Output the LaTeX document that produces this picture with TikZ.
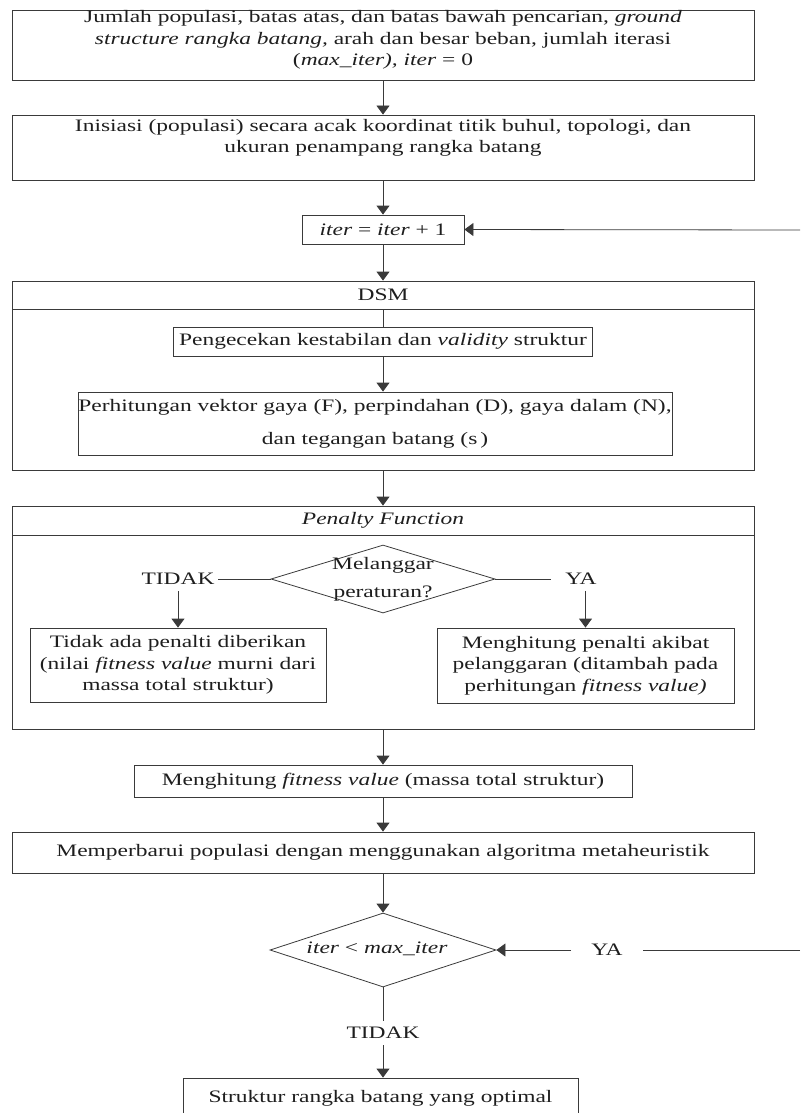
\documentclass[tikz,border=0pt]{standalone}
\usepackage{fontspec}
\setmainfont{Liberation Serif}[FakeStretch=1.34]
\usetikzlibrary{shapes.geometric,arrows.meta,positioning}

\definecolor{linegray}{HTML}{3A3A3A}
\definecolor{inkgray}{HTML}{1E1E1E}

\tikzset{
  box/.style={draw=linegray, line width=0.8pt, rectangle, inner sep=0pt, align=center},
  txt/.style={inner sep=1pt, align=center},
  lbl/.style={inner ysep=6pt, inner xsep=3pt},
  arr/.style={-{Triangle[width=13pt,length=9pt]}, draw=linegray, line width=0.8pt},
  ln/.style={draw=linegray, line width=0.8pt},
}

\begin{document}
\begin{tikzpicture}[x=1pt, y=-1pt, text=inkgray, font=\fontsize{17.5}{21.5}\selectfont]
    \useasboundingbox (0,0) rectangle (800,1113);
    \clip (0,0) rectangle (800,1113);

    % Input data
    \node[box, minimum width=742, minimum height=70] (input) at (383,45) {};
    \node[txt] (inputtxt) at (383,40) {Jumlah populasi, batas atas, dan batas bawah pencarian, \textit{ground}\\
        \textit{structure rangka batang,} arah dan besar beban, jumlah iterasi\\
        (\textit{max\_iter),} \textit{iter} = 0};

    % Initial population
    \node[box, minimum width=742, minimum height=65] (init) at (383,147.5) {};
    \node[txt] (inittxt) at (383,138) {Inisiasi (populasi) secara acak koordinat titik buhul, topologi, dan\\
        ukuran penampang rangka batang};

    % Iteration counter
    \node[box, minimum width=162, minimum height=29] (iter) at (383,229.5) {\textit{iter} = \textit{iter} + 1};

    % DSM block
    \node[box, minimum width=742, minimum height=189] (dsm) at (383,375.5) {};
    \node[box, minimum width=742, minimum height=28, anchor=north] (dsmhead) at (dsm.north) {DSM};
    \node[box, minimum width=419, minimum height=29] (cek) at (383,341.5) {Pengecekan kestabilan dan \textit{validity} struktur};
    \node[box, minimum width=594, minimum height=63] (hitung) at (375,423.5) {Perhitungan vektor gaya (F), perpindahan (D), gaya dalam (N),\\[11.5pt]
        dan tegangan batang (s\,)};

    % Penalty function block
    \node[box, minimum width=742, minimum height=223] (penalty) at (383,617.5) {};
    \node[box, minimum width=742, minimum height=29, anchor=north] (penhead) at (penalty.north) {\textit{Penalty Function}};
    \node[diamond, draw=linegray, line width=0.8pt, minimum width=224, minimum height=68, inner sep=0pt] (langgar) at (383,579) {};
    \node[txt] (langgartxt) at (383,579) {Melanggar\\[6.5pt]peraturan?};
    \node[lbl] (tidak1) at (178,579) {TIDAK};
    \node[lbl, inner xsep=14pt] (ya1) at (581,579) {YA};
    \node[box, minimum width=296, minimum height=74] (nopen) at (178,665) {Tidak ada penalti diberikan\\
        (nilai \textit{fitness value} murni dari\\ massa total struktur)};
    \node[box, minimum width=297, minimum height=75] (yespen) at (585.5,665.5) {Menghitung penalti akibat\\
        pelanggaran (ditambah pada\\ perhitungan \textit{fitness value)}};

    % Fitness and update
    \node[box, minimum width=498, minimum height=32] (fitness) at (383,781) {Menghitung \textit{fitness value} (massa total struktur)};
    \node[box, minimum width=742, minimum height=41] (update) at (383,852.5) {Memperbarui populasi dengan menggunakan algoritma metaheuristik};

    % Stopping criterion
    \node[diamond, draw=linegray, line width=0.8pt, minimum width=226, minimum height=74, inner sep=0pt] (stop) at (383,950) {};
    \node[txt] (stoptxt) at (377,949) {\textit{iter} < \textit{max\_iter}};
    \node[lbl, inner xsep=20pt] (ya2) at (607,950) {YA};
    \node[lbl, inner ysep=6pt] (tidak2) at (383,1033) {TIDAK};
    \node[box, minimum width=395, minimum height=40] (final) at (380.5,1098) {Struktur rangka batang yang optimal};

    % Loop back ends (at the right border)
    \coordinate (loopA) at (800,230);
    \coordinate (loopB) at (800,950);

    % Main flow
    \draw[arr] (input) -- (init);
    \draw[arr] (init) -- (iter);
    \draw[arr] (iter) -- (dsm);
    \draw[ln] (dsmhead) -- (cek);
    \draw[arr] (cek.south) -- (cek.south |- hitung.north);
    \draw[arr] (dsm) -- (penalty);
    \draw[ln] (langgar.west) -- (tidak1.east);
    \draw[ln] (langgar.east) -- (ya1.west);
    \draw[arr] (tidak1.south) -- (tidak1.south |- nopen.north);
    \draw[arr] (ya1.south -| yespen.north) -- (yespen.north);
    \draw[arr] (penalty) -- (fitness);
    \draw[arr] (fitness) -- (update);
    \draw[arr] (update) -- (stop);
    \draw[ln] (loopB) -- (ya2.east);
    \draw[arr] (ya2.west) -- (stop.east);
    \draw[arr] (loopA) -- (iter.east);
    \draw[ln] (stop.south) -- (tidak2.north);
    \draw[arr] (tidak2.south) -- (tidak2.south |- final.north);
\end{tikzpicture}
\end{document}
